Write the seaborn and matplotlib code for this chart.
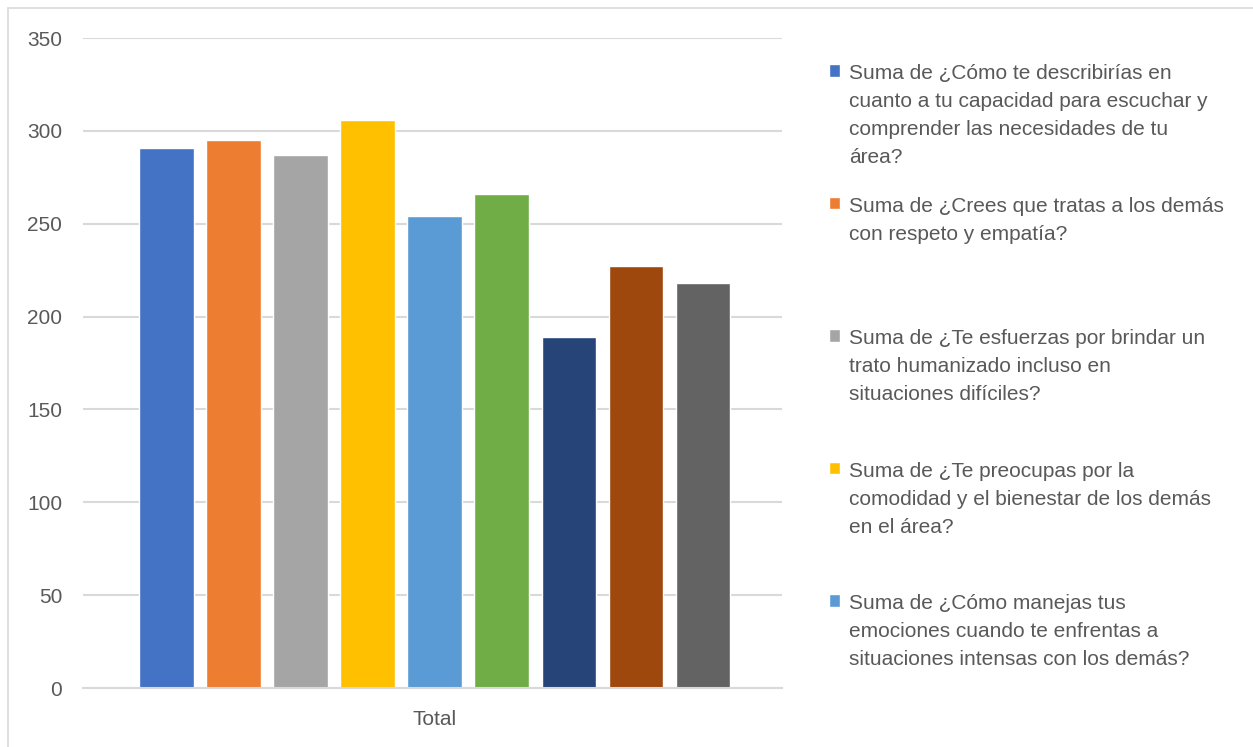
import matplotlib
matplotlib.use("Agg")
import matplotlib.pyplot as plt
from matplotlib.patches import Rectangle
import seaborn as sns
import pandas as pd

# Datos
legend_labels = [
    "Suma de ¿Cómo te describirías en\ncuanto a tu capacidad para escuchar y\ncomprender las necesidades de tu\nárea?",
    "Suma de ¿Crees que tratas a los demás\ncon respeto y empatía?",
    "Suma de ¿Te esfuerzas por brindar un\ntrato humanizado incluso en\nsituaciones difíciles?",
    "Suma de ¿Te preocupas por la\ncomodidad y el bienestar de los demás\nen el área?",
    "Suma de ¿Cómo manejas tus\nemociones cuando te enfrentas a\nsituaciones intensas con los demás?",
]
extra_series = ["Suma de pregunta 6", "Suma de pregunta 7",
                "Suma de pregunta 8", "Suma de pregunta 9"]
series = [l.replace("\n", " ") for l in legend_labels] + extra_series
values = [291, 295, 287, 306, 254, 266, 189, 227, 218]
category = ["Total"] * len(values)
colors = ["#4472C4", "#ED7D31", "#A5A5A5", "#FFC000", "#5B9BD5",
          "#70AD47", "#264478", "#9E480E", "#636363"]
yticks = [0, 50, 100, 150, 200, 250, 300, 350]

df = pd.DataFrame({"cat": category, "serie": series, "valor": values})

sns.set_theme(style="white")
plt.rcParams["font.family"] = ["Liberation Sans", "DejaVu Sans"]
txt = "#595959"
grid = "#d9d9d9"

fig = plt.figure(figsize=(12.53, 7.47), dpi=100)
ax = fig.add_axes([83 / 1253, 1 - 688 / 747, 699 / 1253, 650 / 747])

sns.barplot(data=df, x="cat", y="valor", hue="serie", hue_order=series,
            palette=colors, saturation=1, width=0.863, gap=0.19,
            legend=False, ax=ax)

ax.set_xlim(-0.503, 0.497)
ax.set_ylim(0, 350)
ax.set_yticks(yticks)
ax.set_xlabel("")
ax.set_ylabel("")
ax.yaxis.grid(True, color=grid, linewidth=1.5)
ax.set_axisbelow(True)
for s in ["top", "right", "left"]:
    ax.spines[s].set_visible(False)
ax.spines["bottom"].set_color(grid)
ax.spines["bottom"].set_linewidth(1.5)
ax.tick_params(axis="y", length=0, pad=15, labelsize=15, labelcolor=txt)
ax.tick_params(axis="x", length=0, pad=16, labelsize=15, labelcolor=txt)

# leyenda (Excel solo muestra las cinco primeras)
handles = [c[0] for c in ax.containers][:5]
labels = [l + "\n" * (3 - l.count("\n")) for l in legend_labels]
leg = ax.legend(handles, labels, loc="upper left",
                bbox_to_anchor=(829 / 1253, 1 - 64 / 747),
                bbox_transform=fig.transFigure, frameon=False, fontsize=15,
                labelspacing=1.42, handlelength=0.55, handleheight=0.55,
                handletextpad=0.4, borderpad=0, borderaxespad=0)
for t in leg.get_texts():
    t.set_color(txt)
    t.set_linespacing(1.60)
for col in leg._legend_handle_box.get_children():
    for item in col.get_children():
        item.align = "top"

fig.add_artist(Rectangle((8 / 1253, -0.01), 1, 1 - 8 / 747 + 0.01,
                         transform=fig.transFigure, fill=False,
                         edgecolor=grid, linewidth=1.2))

fig.savefig("out.png", dpi=100)
